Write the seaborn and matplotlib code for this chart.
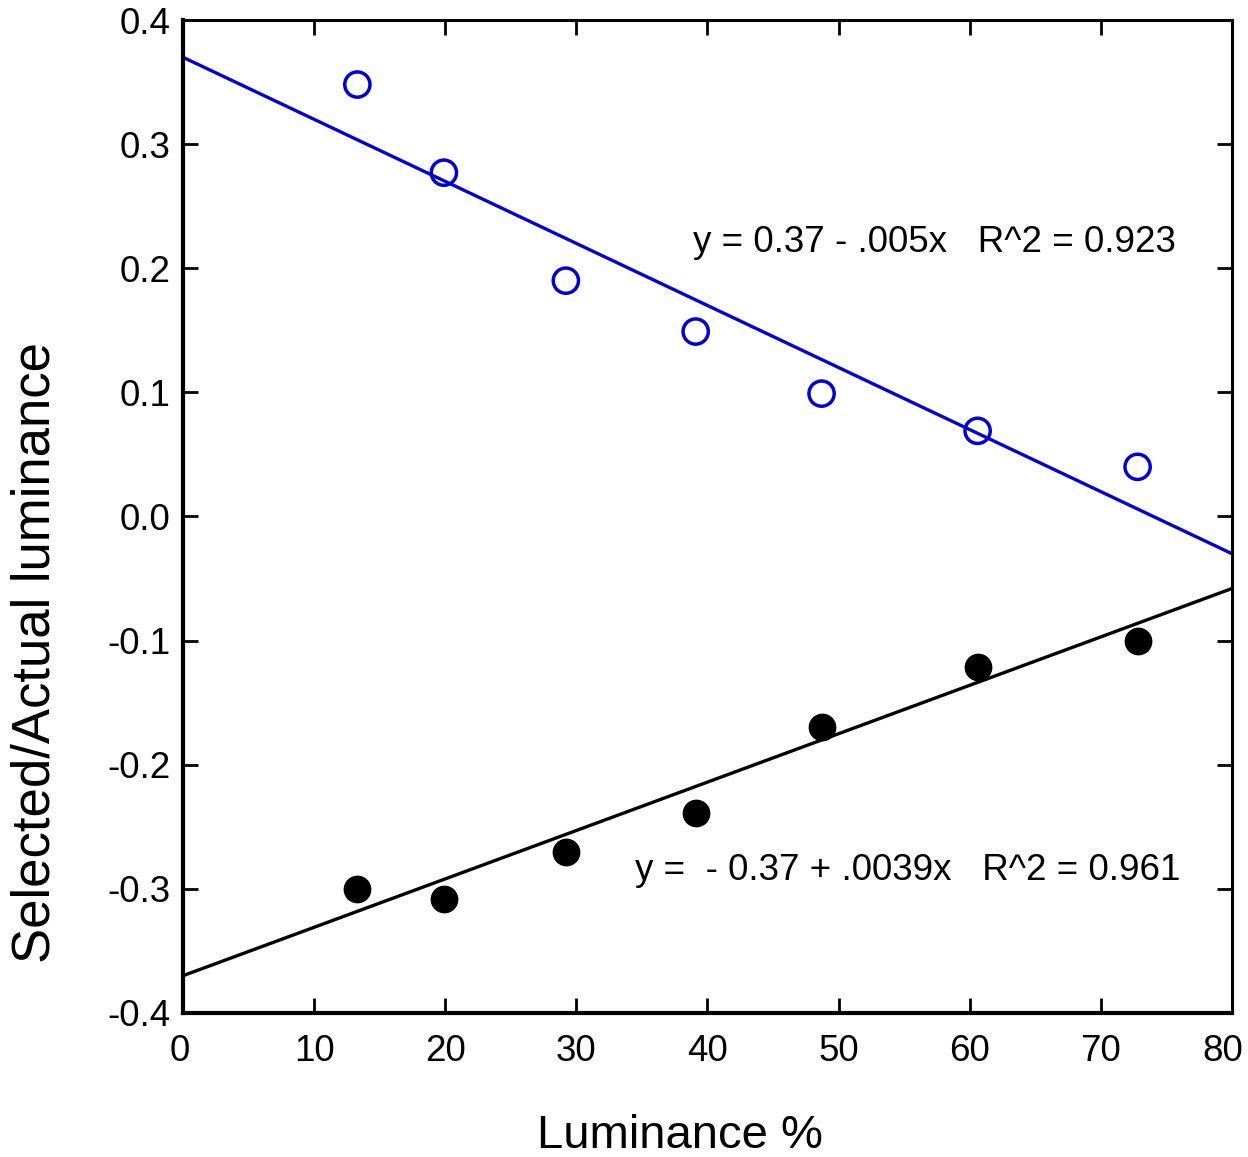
import numpy as np
import pandas as pd
import matplotlib
matplotlib.use("Agg")
import matplotlib.pyplot as plt
import matplotlib.transforms as mtransforms
import seaborn as sns

# Luminance levels tested (%)
luminance = [13.3, 19.9, 29.2, 39.1, 48.7, 60.6, 72.8]
# Ratio of selected to actual luminance, two conditions
upper_ratio = [0.348, 0.277, 0.190, 0.149, 0.099, 0.069, 0.040]
lower_ratio = [-0.300, -0.308, -0.270, -0.239, -0.170, -0.121, -0.100]

# Fitted line coefficients (intercept, slope)
upper_fit = (0.37, -0.005)
lower_fit = (-0.37, 0.0039)

x_ticks = [0, 10, 20, 30, 40, 50, 60, 70, 80]
y_ticks = [-0.4, -0.3, -0.2, -0.1, 0.0, 0.1, 0.2, 0.3, 0.4]

sns.set_theme(style="ticks")
plt.rcParams["font.family"] = ["Liberation Sans", "DejaVu Sans"]
plt.rcParams["text.color"] = "black"
plt.rcParams["axes.labelcolor"] = "black"

BLUE = "#0000d8"

fig = plt.figure(figsize=(12.48, 11.57), dpi=100)
ax = fig.add_axes([0.1466, 0.1245, 0.8406, 0.8582])

df = pd.DataFrame({"lum": luminance, "upper": upper_ratio, "lower": lower_ratio})

xs = np.array([0, 80])
sns.lineplot(x=xs, y=upper_fit[0] + upper_fit[1] * xs, ax=ax, color=BLUE, lw=2.4)
sns.lineplot(x=xs, y=lower_fit[0] + lower_fit[1] * xs, ax=ax, color="black", lw=2.4)

sns.scatterplot(data=df, x="lum", y="upper", ax=ax, marker="o", s=330,
                facecolor="none", edgecolor=BLUE, linewidth=2.5, zorder=3)
sns.scatterplot(data=df, x="lum", y="lower", ax=ax, marker="o", s=360,
                color="black", edgecolor="black", linewidth=1, zorder=3)

ax.set_xlim(0, 80)
ax.set_ylim(-0.4, 0.4)
ax.set_xticks(x_ticks)
ax.set_yticks(y_ticks)
ax.set_xticklabels([str(t) for t in x_ticks])
ax.set_yticklabels([f"{t:.1f}" for t in y_ticks])

ax.tick_params(direction="in", length=11, width=2, labelsize=26.5,
               top=True, right=True, colors="black")
ax.tick_params(axis="x", pad=15)
ax.tick_params(axis="y", pad=9)
for side in ["left", "bottom"]:
    ax.spines[side].set_linewidth(3)
for side in ["top", "right"]:
    ax.spines[side].set_linewidth(2.2)
    ax.spines[side].set_visible(True)
for sp in ax.spines.values():
    sp.set_color("black")

# keep the end labels inside the figure
xlabels = ax.get_xticklabels()
xlabels[-1].set_transform(xlabels[-1].get_transform() +
                          mtransforms.ScaledTranslation(-0.09, 0, fig.dpi_scale_trans))
xlabels[0].set_transform(xlabels[0].get_transform() +
                         mtransforms.ScaledTranslation(-0.03, 0, fig.dpi_scale_trans))

ax.set_xlabel("Luminance %", fontsize=34)
ax.xaxis.set_label_coords(0.474, -0.102)
ax.set_ylabel("Selected/Actual luminance", fontsize=38, va="center")
ax.yaxis.set_label_coords(-0.141, 0.3635)

ax.text(38.9, 0.221, "y = 0.37 - .005x   R^2 = 0.923", fontsize=26.5,
        ha="left", va="center")
ax.text(34.5, -0.285, "y =  - 0.37 + .0039x   R^2 = 0.961", fontsize=26.5,
        ha="left", va="center")

fig.savefig("out.png", dpi=100)
